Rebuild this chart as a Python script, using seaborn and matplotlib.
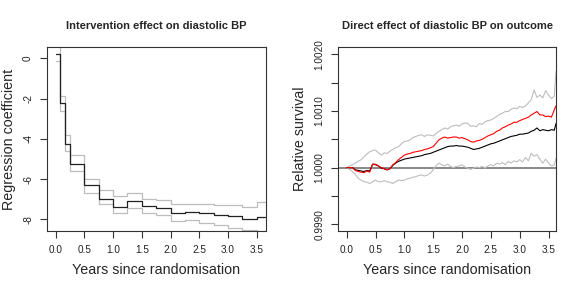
import numpy as np
import pandas as pd
import matplotlib
matplotlib.use("Agg")
import matplotlib.pyplot as plt
import seaborn as sns

# --- left panel: step estimates of the intervention effect (quarterly steps)
step_years = [0.0, 0.08, 0.17, 0.25, 0.5, 0.75, 1.0, 1.25, 1.5, 1.75,
              2.0, 2.25, 2.5, 2.75, 3.0, 3.25, 3.5, 3.65]
coef_est = [0.21, -2.24, -4.25, -5.25, -6.29, -6.97, -7.37, -7.08, -7.32, -7.43,
            -7.71, -7.62, -7.71, -7.8, -7.82, -8.0, -7.87, -7.87]
coef_upper = [0.7, -1.85, -3.8, -4.8, -6.0, -6.52, -6.84, -6.69, -7.0, -7.05,
              -7.25, -7.22, -7.25, -7.28, -7.3, -7.38, -7.16, -7.16]
coef_lower = [-0.13, -2.6, -4.6, -5.6, -6.69, -7.25, -7.68, -7.43, -7.7, -7.8,
              -8.1, -8.05, -8.2, -8.3, -8.45, -8.55, -8.6, -8.6]

# --- right panel: relative survival, stored as (value - 1) in units of 1e-4
surv_years = [0.0, 0.05, 0.1, 0.15, 0.2, 0.25, 0.3, 0.35, 0.4, 0.45,
              0.5, 0.55, 0.6, 0.65, 0.7, 0.75, 0.8, 0.85, 0.9, 0.95,
              1.0, 1.05, 1.1, 1.15, 1.2, 1.25, 1.3, 1.35, 1.4, 1.45,
              1.5, 1.55, 1.6, 1.65, 1.7, 1.75, 1.8, 1.85, 1.9, 1.95,
              2.0, 2.05, 2.1, 2.15, 2.2, 2.25, 2.3, 2.35, 2.4, 2.45,
              2.5, 2.55, 2.6, 2.65, 2.7, 2.75, 2.8, 2.85, 2.9, 2.95,
              3.0, 3.05, 3.1, 3.15, 3.2, 3.25, 3.3, 3.35, 3.4, 3.45,
              3.5, 3.55, 3.6, 3.63]
surv_red = [0, 0, 0, -0.5, -0.7, -0.8, -0.9, -0.6, -0.8, 0.6,
            0.6, 0.3, 0.0, -0.2, -0.4, -0.2, 0.5, 0.9, 1.4, 1.8,
            2.2, 2.4, 2.5, 2.7, 2.8, 2.9, 3.0, 3.2, 3.3, 3.5,
            3.7, 4.3, 4.9, 5.2, 5.4, 5.2, 5.3, 5.4, 5.4, 5.2,
            5.3, 5.1, 4.9, 4.6, 4.5, 4.7, 4.8, 5.0, 5.3, 5.6,
            5.8, 6.0, 6.4, 6.6, 7.0, 7.2, 7.5, 7.7, 8.0, 8.0,
            8.3, 8.5, 8.7, 8.9, 9.3, 9.6, 9.9, 9.3, 9.3, 9.0,
            9.1, 8.9, 10.2, 10.9]
surv_black = [0, 0, 0, -0.4, -0.5, -0.6, -0.7, -0.5, -0.6, 0.6,
              0.5, 0.3, -0.1, -0.2, -0.4, -0.2, 0.4, 0.8, 1.1, 1.3,
              1.5, 1.6, 1.7, 1.8, 1.9, 2.0, 2.1, 2.3, 2.4, 2.5,
              2.7, 2.9, 3.1, 3.3, 3.5, 3.7, 3.8, 3.8, 3.9, 3.8,
              3.8, 3.7, 3.6, 3.4, 3.2, 3.3, 3.4, 3.6, 3.8, 4.0,
              4.2, 4.3, 4.5, 4.7, 4.9, 5.1, 5.3, 5.5, 5.6, 5.7,
              5.9, 5.9, 6.0, 6.1, 6.4, 6.6, 7.0, 6.5, 6.7, 6.6,
              6.5, 6.7, 6.6, 7.8]
surv_upper = [0, 0.3, 0.5, 0.8, 1.1, 1.4, 1.9, 2.4, 2.8, 3.0,
              3.1, 2.6, 2.2, 2.6, 2.5, 2.9, 3.2, 3.5, 3.7, 4.2,
              4.6, 4.7, 4.9, 5.3, 5.5, 5.7, 5.8, 5.5, 5.8, 5.7,
              5.6, 6.0, 6.4, 6.7, 7.0, 6.8, 7.2, 7.4, 7.5, 7.3,
              7.7, 7.9, 7.8, 7.3, 7.4, 7.2, 7.8, 7.6, 8.1, 8.3,
              8.4, 8.7, 9.0, 9.4, 9.6, 9.9, 9.9, 10.3, 10.5, 10.4,
              10.8, 10.6, 10.9, 11.4, 12.0, 13.7, 12.4, 12.8, 12.3, 13.6,
              12.8, 12.2, 12.6, 17.0]
surv_lower = [0, -0.3, -0.7, -1.2, -1.9, -2.2, -2.5, -2.6, -2.8, -2.5,
              -2.2, -2.5, -2.5, -2.3, -2.5, -2.6, -2.8, -2.5, -2.2, -2.3,
              -2.2, -2.0, -1.9, -1.7, -1.6, -1.4, -1.3, -1.5, -1.3, -1.0,
              -0.4, 0.3, 0.8, 0.5, 0.3, 0.6, 0.2, 0.0, 0.2, 0.3,
              0.5, 0.1, -0.1, -0.3, -0.1, 0.1, 0.0, 0.2, -0.1, 0.3,
              0.5, 0.3, 0.8, 0.6, 0.9, 0.5, 1.1, 0.8, 1.2, 1.0,
              1.4, 1.0, 1.8, 1.2, 2.5, 2.0, 2.3, 1.5, 0.8, 1.5,
              0.8, 0.3, 0.5, 1.6]

x_ticks = [0.0, 0.5, 1.0, 1.5, 2.0, 2.5, 3.0, 3.5]

sns.set_theme(style="ticks")
plt.rcParams["font.family"] = ["Liberation Sans", "DejaVu Sans"]
plt.rcParams["axes.unicode_minus"] = False

grey = "#bdbdbd"

fig = plt.figure(figsize=(5.81, 2.91), dpi=100)
ax1 = fig.add_axes([0.0809, 0.2062, 0.3769, 0.6323])
ax2 = fig.add_axes([0.5818, 0.2062, 0.3752, 0.6323])

left = pd.DataFrame({"t": step_years, "est": coef_est,
                     "up": coef_upper, "lo": coef_lower})
for col, colr in [("up", grey), ("lo", grey), ("est", "#222222")]:
    sns.lineplot(data=left, x="t", y=col, ax=ax1, color=colr, lw=0.9,
                 drawstyle="steps-post", estimator=None, sort=False)

right = pd.DataFrame({"t": surv_years})
for name, vals in [("red", surv_red), ("black", surv_black),
                   ("up", surv_upper), ("lo", surv_lower)]:
    right[name] = 1 + np.array(vals) * 1e-4

ax2.axhline(1.0, color="#888888", lw=1.4, zorder=1)
for col, colr in [("up", grey), ("lo", grey), ("black", "black"), ("red", "#ff0000")]:
    sns.lineplot(data=right, x="t", y=col, ax=ax2, color=colr, lw=0.8,
                 estimator=None, sort=False)

ax1.set_xlim(-0.15, 3.66)
ax1.set_ylim(-8.58, 0.56)
ax1.set_yticks([0, -2, -4, -6, -8])
ax2.set_xlim(-0.15, 3.63)
ax2.set_ylim(0.99888, 1.00213)
r_ticks = [0.9990, 0.9995, 1.0000, 1.0005, 1.0010, 1.0015, 1.0020]
ax2.set_yticks(r_ticks)
ax2.set_yticklabels(["0.9990", "", "1.0000", "", "1.0010", "", "1.0020"])

titles = ["Intervention effect on diastolic BP", "Direct effect of diastolic BP on outcome"]
ylabels = ["Regression coefficient", "Relative survival"]
for ax, ttl, yl in zip([ax1, ax2], titles, ylabels):
    ax.set_xticks(x_ticks)
    ax.set_xticklabels([f"{v:.1f}" for v in x_ticks])
    ax.tick_params(axis="both", labelsize=7.2, length=5, width=0.8,
                   color="#333333", labelcolor="#222222", pad=5)
    for lab in ax.get_yticklabels():
        lab.set_rotation(90)
        lab.set_va("center")
    for s in ax.spines.values():
        s.set_visible(True)
        s.set_color("#333333")
        s.set_linewidth(0.8)
    ax.set_title(ttl, fontsize=8, fontweight="bold", pad=13)
    ax.set_xlabel("Years since randomisation", fontsize=10.3, labelpad=6)
    ax.set_ylabel(yl, fontsize=10.3, labelpad=5)

fig.savefig("out.png", dpi=100)
